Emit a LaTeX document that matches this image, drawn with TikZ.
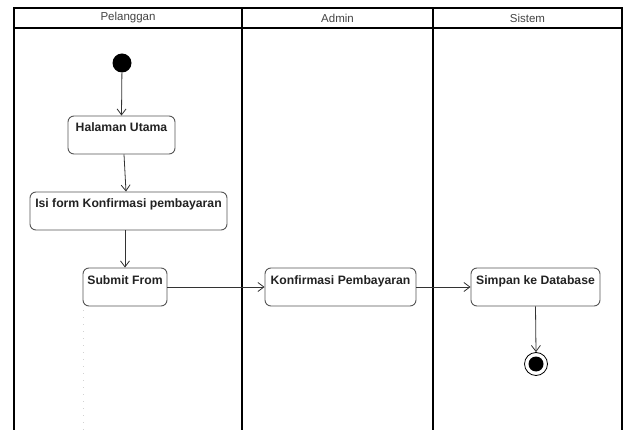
\documentclass[tikz,border=0pt]{standalone}
\usepackage{fontspec}
\setmainfont{Liberation Sans}
\usetikzlibrary{arrows.meta,calc}
\definecolor{edge}{HTML}{333333}
\definecolor{boxline}{HTML}{555555}
\definecolor{headtext}{HTML}{444444}
\definecolor{acttext}{HTML}{222222}
\tikzset{
  lane/.style={line width=1.6pt, black},
  lanehead/.style={font=\fontsize{11.5}{13}\selectfont, text=headtext, anchor=center},
  act/.style={draw=boxline, line width=0.9pt, rounded corners=6pt, fill=white, text=acttext,
    font=\bfseries\fontsize{12.2}{14}\selectfont, inner xsep=3pt, inner ysep=4pt,
    text height=12pt, text depth=18pt},
  flow/.style={draw=edge, line width=0.8pt, -{Straight Barb[length=6pt,width=9pt,line width=0.8pt]}},
  startdot/.style={circle, fill=black, minimum size=19pt, inner sep=0pt},
  enddot/.style={circle, draw=black, line width=0.8pt, fill=white, minimum size=23pt, inner sep=0pt,
    path picture={\fill[black] (path picture bounding box.center) circle (7.5pt);}},
}
\begin{document}
\begin{tikzpicture}[x=1pt, y=-1pt]
  \useasboundingbox (0,0) rectangle (629,430);
  \fill[white] (0,0) rectangle (629,430);

  % swimlane frame
  \draw[lane] (14,430) -- (14,8) -- (622,8) -- (622,430);
  \draw[lane] (14,28) -- (622,28);
  \draw[lane] (242,8) -- (242,430);
  \draw[lane] (433,8) -- (433,430);
  \node[lanehead] (hpel) at (128,18) {Pelanggan};
  \node[lanehead] (hadm) at (337.5,18) {Admin};
  \node[lanehead] (hsis) at (527.5,18) {Sistem};

  % faint guide below the submit action
  \draw[gray!35, line width=0.6pt, dash pattern=on 1pt off 6pt] (83,310) -- (83,430);

  % activities
  \node[startdot] (start) at (122,63) {};
  \node[act, minimum width=107pt] (hal) at (121.5,135) {Halaman Utama};
  \node[act, minimum width=197pt] (isi) at (128.5,211) {Isi form Konfirmasi pembayaran};
  \node[act, minimum width=84pt] (sub) at (125,287) {Submit From};
  \node[act, minimum width=151pt] (konf) at (340.5,287) {Konfirmasi Pembayaran};
  \node[act, minimum width=129pt] (simp) at (535.5,287) {Simpan ke Database};
  \node[enddot] (stop) at (536,364) {};

  % control flow
  \draw[flow] (start) -- (hal.north);
  \draw[flow] ([xshift=2.5pt]hal.south) -- ([xshift=-2.5pt]isi.north);
  \draw[flow] (isi.south -| sub.north) -- (sub.north);
  \draw[flow] (sub.east) -- (konf.west);
  \draw[flow] (konf.east) -- (simp.west);
  \draw[flow] (simp.south) -- (stop.north);
\end{tikzpicture}
\end{document}
